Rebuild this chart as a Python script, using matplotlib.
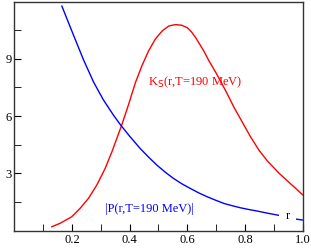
import matplotlib
matplotlib.use("Agg")
import matplotlib.pyplot as plt
from matplotlib.ticker import MultipleLocator

plt.rcParams['font.family'] = ['Liberation Serif', 'DejaVu Serif']

# K_S(r, T=190 MeV) -- red
ks_r = [0.130, 0.159, 0.199, 0.228, 0.257, 0.286, 0.315, 0.339, 0.356, 0.373, 0.397,
        0.420, 0.443, 0.466, 0.489, 0.513, 0.536, 0.559, 0.580, 0.600, 0.615, 0.629,
        0.657, 0.675, 0.704, 0.733, 0.762, 0.791, 0.820, 0.849, 0.878, 0.919, 0.948,
        0.975, 1.0]
ks_v = [0.21, 0.39, 0.73, 1.17, 1.69, 2.39, 3.26, 4.15, 4.85, 5.55, 6.64,
        7.75, 8.65, 9.42, 10.03, 10.46, 10.72, 10.79, 10.76, 10.63, 10.40, 10.11,
        9.42, 8.90, 8.15, 7.33, 6.46, 5.68, 4.90, 4.21, 3.65, 3.00, 2.60,
        2.23, 1.88]

# |P(r, T=190 MeV)| -- blue
p_r = [0.165, 0.205, 0.240, 0.275, 0.309, 0.344, 0.368, 0.400, 0.437, 0.466,
       0.495, 0.524, 0.553, 0.582, 0.611, 0.640, 0.669, 0.698, 0.727, 0.756, 0.785,
       0.814, 0.843, 0.878, 0.913, 0.945, 0.977, 1.0]
p_v = [11.76, 10.25, 8.95, 7.78, 6.85, 6.05, 5.55, 4.95, 4.30, 3.85,
       3.43, 3.06, 2.73, 2.45, 2.21, 1.98, 1.78, 1.60, 1.43, 1.31, 1.20,
       1.11, 1.03, 0.92, 0.82, 0.71, 0.61, 0.56]

x_ticks = [0.2, 0.4, 0.6, 0.8, 1.0]
x_ticklabels = ["0.2", "0.4", "0.6", "0.8", "1.0"]
y_ticks = [3, 6, 9]
y_ticklabels = ["3", "6", "9"]

fig = plt.figure(figsize=(3.11, 2.5), dpi=100)
ax = fig.add_axes([0.046, 0.077, 0.927, 0.917])

ax.plot(ks_r, ks_v, color='#ff0000', lw=1.0)
ax.plot(p_r, p_v, color='#0000ff', lw=1.0)

ax.set_xlim(0, 1.0)
ax.set_ylim(0, 12)
ax.set_xticks(x_ticks)
ax.set_xticklabels(x_ticklabels)
ax.set_yticks(y_ticks)
ax.set_yticklabels(y_ticklabels)
ax.xaxis.set_minor_locator(MultipleLocator(0.1))
ax.yaxis.set_minor_locator(MultipleLocator(1.5))
ax.tick_params(which='both', direction='in', top=False, right=False, labelsize=9, pad=2)
ax.tick_params(which='major', length=5)
ax.tick_params(which='minor', length=5)
for s in ax.spines.values():
    s.set_color('#333333')
    s.set_linewidth(1.0)

ax.text(0.465, 7.75, r"K$_\mathrm{S}$(r,T=190 MeV)", color='#ff0000', fontsize=9,
        ha='left', va='center')
ax.text(0.315, 1.15, "|P(r,T=190 MeV)|", color='#0000ff', fontsize=9,
        ha='left', va='center')
ax.text(0.948, 0.75, "r", color='black', fontsize=9, ha='center', va='center',
        bbox=dict(facecolor='white', edgecolor='none', pad=4.5))

fig.savefig("out.png", dpi=100)
